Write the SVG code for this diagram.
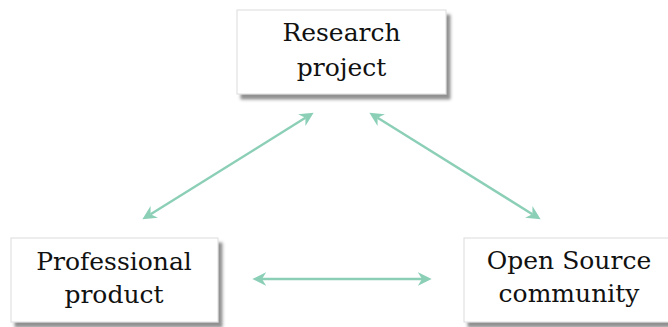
<svg xmlns="http://www.w3.org/2000/svg" width="668" height="327" viewBox="0 0 668 327">
  <style>
    .box { fill: #ffffff; stroke: #dcdcdc; stroke-width: 1; filter: url(#shadow); }
    .label { font-family: "DejaVu Serif", "Liberation Serif", serif; font-size: 25px; fill: #111111; text-anchor: middle; }
    .conn { stroke: #8ccfb7; stroke-width: 2.4; fill: none; marker-start: url(#head); marker-end: url(#head); }
  </style>
  <defs>
    <filter id="shadow" x="-10%" y="-10%" width="130%" height="140%">
      <feDropShadow dx="4" dy="5" stdDeviation="1.6" flood-color="#555555" flood-opacity="0.65"/>
    </filter>
    <marker id="head" markerUnits="userSpaceOnUse" markerWidth="14" markerHeight="14" viewBox="0 0 13 13" refX="4" refY="6.5" orient="auto-start-reverse">
      <path d="M0,0 L13,6.5 L0,13 L4,6.5 z" fill="#8ccfb7"/>
    </marker>
  </defs>
  <rect width="668" height="327" fill="#ffffff"/>
  <g id="connectors">
    <line class="conn" x1="150.6" y1="214.2" x2="305.4" y2="117.8"/>
    <line class="conn" x1="377.6" y1="117.8" x2="532.4" y2="214.2"/>
    <line class="conn" x1="262" y1="279" x2="422" y2="279"/>
  </g>
  <g id="research">
    <rect class="box" x="237" y="10" width="209" height="84"/>
    <text class="label" x="341.5" y="41">Research</text>
    <text class="label" x="341.5" y="76">project</text>
  </g>
  <g id="professional">
    <rect class="box" x="11" y="238" width="207" height="84"/>
    <text class="label" x="114" y="270">Professional</text>
    <text class="label" x="114" y="303">product</text>
  </g>
  <g id="opensource">
    <rect class="box" x="464" y="238" width="208" height="84"/>
    <text class="label" x="569" y="269">Open Source</text>
    <text class="label" x="569" y="302">community</text>
  </g>
</svg>
